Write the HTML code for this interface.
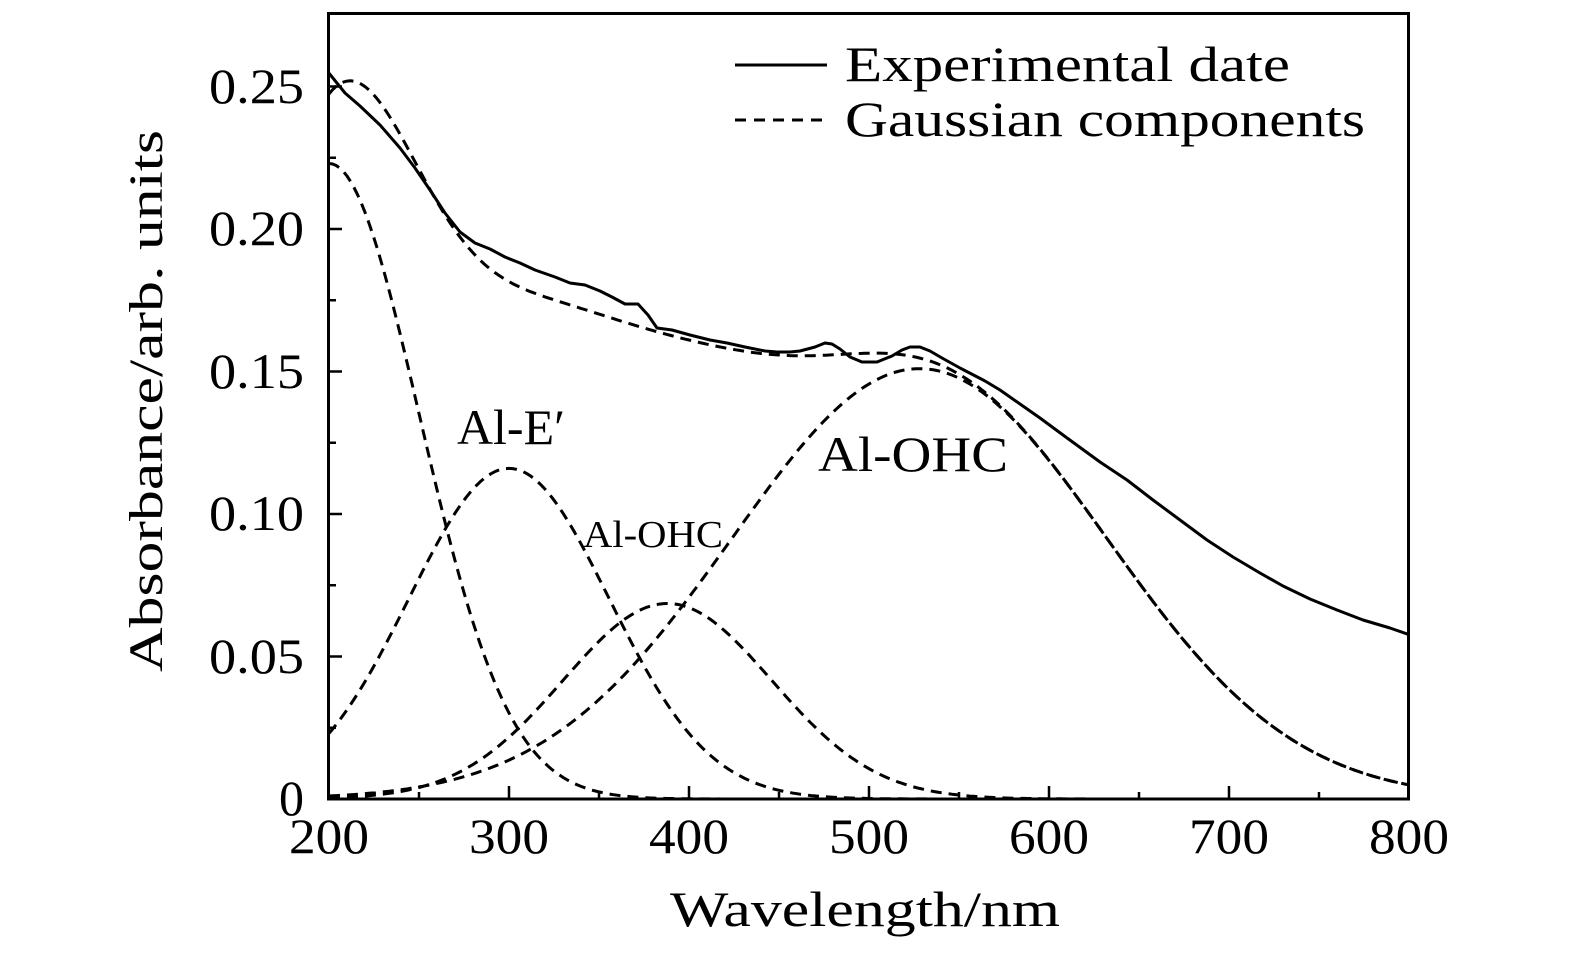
<!DOCTYPE html>
<html><head><meta charset="utf-8"><style>
html,body{margin:0;padding:0;background:#fff;}
svg{display:block}
text{font-family:"Liberation Serif",serif;fill:#000}
</style></head><body>
<svg id="s" width="1575" height="955" viewBox="0 0 1575 955" xmlns="http://www.w3.org/2000/svg">
<defs><clipPath id="c"><rect x="329" y="13" width="1080" height="786"/></clipPath></defs>
<rect x="0" y="0" width="1575" height="955" fill="#fff"/>
<g clip-path="url(#c)" fill="none" stroke="#000" stroke-width="3" stroke-linejoin="round">
<path id="p1" stroke-dasharray="11 7"/>
<path id="p2" stroke-dasharray="11 7"/>
<path id="p3" stroke-dasharray="11 7"/>
<path id="p4" stroke-dasharray="11 7"/>
<path id="ps" stroke-dasharray="11 7"/>
<polyline points="328,72 345,93 360,106 380,125 400,148 415,168 430,190 445,213 460,232 475,243 490,249 505,257 520,263 535,270 555,277 570,283 585,285 600,291 612,297 625,304 638,304 648,315 657,328 672,330 690,335 710,340 727,343 745,347 765,351 777,352 790,352 800,351 815,347 825,343 832,344 840,349 850,357 862,362 877,362 892,356 902,350 910,347 920,347 930,351 942,358 960,368 985,381 1000,390 1020,404 1040,418 1063,435 1100,462 1127,480 1153,500 1180,520 1207,540 1233,557 1260,573 1283,586 1310,599 1337,610 1363,620 1390,628 1410,635"/>
</g>
<rect x="328.5" y="13.5" width="1080" height="785.5" fill="none" stroke="#000" stroke-width="3"/>
<path fill="none" stroke="#000" stroke-width="2.5" d="M509 799V786 M689 799V786 M869 799V786 M1049 799V786 M1229 799V786 M419 799V792 M599 799V792 M779 799V792 M959 799V792 M1139 799V792 M1319 799V792 M329 656.5H342 M329 514H342 M329 371.5H342 M329 229H342 M329 86.5H342 M329 727.75H336 M329 585.25H336 M329 442.75H336 M329 300.25H336 M329 157.75H336"/>
<!-- y tick labels -->
<g font-size="50">
<text x="209" y="103" textLength="95" lengthAdjust="spacingAndGlyphs">0.25</text>
<text x="209" y="245" textLength="95" lengthAdjust="spacingAndGlyphs">0.20</text>
<text x="209" y="388" textLength="95" lengthAdjust="spacingAndGlyphs">0.15</text>
<text x="209" y="530" textLength="95" lengthAdjust="spacingAndGlyphs">0.10</text>
<text x="209" y="673" textLength="95" lengthAdjust="spacingAndGlyphs">0.05</text>
<text x="279" y="815" textLength="25" lengthAdjust="spacingAndGlyphs">0</text>
</g>
<!-- x tick labels -->
<g font-size="50">
<text x="289" y="853" textLength="80" lengthAdjust="spacingAndGlyphs">200</text>
<text x="469" y="853" textLength="80" lengthAdjust="spacingAndGlyphs">300</text>
<text x="649" y="853" textLength="80" lengthAdjust="spacingAndGlyphs">400</text>
<text x="829" y="853" textLength="80" lengthAdjust="spacingAndGlyphs">500</text>
<text x="1009" y="853" textLength="80" lengthAdjust="spacingAndGlyphs">600</text>
<text x="1189" y="853" textLength="80" lengthAdjust="spacingAndGlyphs">700</text>
<text x="1369" y="853" textLength="80" lengthAdjust="spacingAndGlyphs">800</text>
</g>
<text x="670" y="926" font-size="50" textLength="390" lengthAdjust="spacingAndGlyphs">Wavelength/nm</text>
<text transform="translate(162,672) rotate(-90)" x="0" y="0" font-size="48" textLength="542" lengthAdjust="spacingAndGlyphs">Absorbance/arb. units</text>
<!-- legend -->
<line x1="735" y1="65" x2="827" y2="65" stroke="#000" stroke-width="3"/>
<line x1="735" y1="120" x2="827" y2="120" stroke="#000" stroke-width="3" stroke-dasharray="11 8"/>
<text x="845" y="81" font-size="50" textLength="445" lengthAdjust="spacingAndGlyphs">Experimental date</text>
<text x="845" y="136" font-size="50" textLength="520" lengthAdjust="spacingAndGlyphs">Gaussian components</text>
<!-- annotations -->
<text x="457" y="444" font-size="50" textLength="108" lengthAdjust="spacingAndGlyphs">Al-E′</text>
<text x="583" y="547" font-size="38" textLength="140" lengthAdjust="spacingAndGlyphs">Al-OHC</text>
<text x="818" y="471" font-size="50" textLength="190" lengthAdjust="spacingAndGlyphs">Al-OHC</text>
</svg>
<script>
(function(){
var X=function(w){return 329+(w-200)*1.8},Y=function(a){return 799-a*2850};
var g=function(A,c,s){return function(w){return A*Math.exp(-(w-c)*(w-c)/(2*s*s))}};
var f1=g(.223,200,50),f2=g(.116,300,55.6),f3=g(.0686,388,58),f4=g(.151,528,104);
var fs=function(w){return f1(w)+f2(w)+f3(w)+f4(w)};
function path(f){var d='';for(var w=200;w<=800.001;w+=2){d+=(w==200?'M':'L')+X(w).toFixed(1)+' '+Y(f(w)).toFixed(1)+' '}return d}
document.getElementById('p1').setAttribute('d',path(f1));
document.getElementById('p2').setAttribute('d',path(f2));
document.getElementById('p3').setAttribute('d',path(f3));
document.getElementById('p4').setAttribute('d',path(f4));
document.getElementById('ps').setAttribute('d',path(fs));
})();
</script>
</body></html>
